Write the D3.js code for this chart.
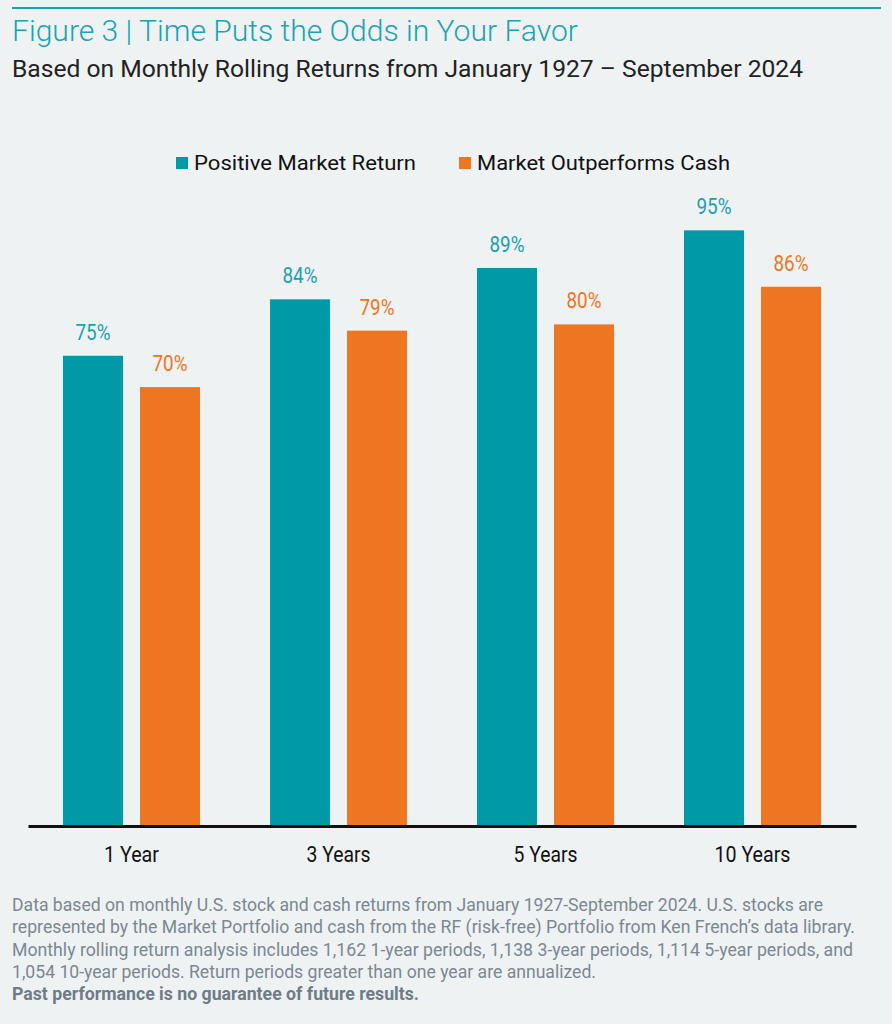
<!DOCTYPE html>
<html>
<head>
<meta charset="utf-8">
<script src="https://cdn.jsdelivr.net/npm/d3@7"></script>
<style>
  body { margin: 0; background: #eef2f3; }
  svg { display: block; font-family: Roboto, "Noto Sans", sans-serif; }
</style>
</head>
<body>
<script>
var w = 892, h = 1024;

// data
var categories = ["1 Year", "3 Years", "5 Years", "10 Years"];
var seriesNames = ["Positive Market Return", "Market Outperforms Cash"];
var positiveReturn = [75, 84, 89, 95];
var outperformCash = [70, 79, 80, 86];
var seriesColors = ["#0099a8", "#ee7623"];
var labelColors = ["#1aa0b0", "#ee7623"];
var footLines = [
  "Data based on monthly U.S. stock and cash returns from January 1927-September 2024. U.S. stocks are",
  "represented by the Market Portfolio and cash from the RF (risk-free) Portfolio from Ken French\u2019s data library.",
  "Monthly rolling return analysis includes 1,162 1-year periods, 1,138 3-year periods, 1,114 5-year periods, and",
  "1,054 10-year periods. Return periods greater than one year are annualized."
];
var footWidths = [811, 843, 841, 584];

var rows = categories.map(function(c, i) {
  return { cat: c, values: [positiveReturn[i], outperformCash[i]] };
});

var svg = d3.select("body").append("svg")
    .attr("width", w)
    .attr("height", h);

svg.append("rect").attr("width", w).attr("height", h).attr("fill", "#eef2f3");

// header
svg.append("line")
    .attr("x1", 12).attr("x2", 881)
    .attr("y1", 8).attr("y2", 8)
    .attr("stroke", "#1aa3b2").attr("stroke-width", 2);

svg.append("text")
    .text("Figure 3 | Time Puts the Odds in Your Favor")
    .attr("x", 12).attr("y", 41)
    .attr("textLength", 566).attr("lengthAdjust", "spacingAndGlyphs")
    .style("font-size", "30px").style("font-weight", 300)
    .style("fill", "#1aa3b2");

svg.append("text")
    .text("Based on Monthly Rolling Returns from January 1927 \u2013 September 2024")
    .attr("x", 12).attr("y", 77)
    .attr("textLength", 791).attr("lengthAdjust", "spacingAndGlyphs")
    .style("font-size", "23px")
    .style("fill", "#222");

// legend
var legendPos = [{ sx: 176, tx: 194, tw: 222 }, { sx: 459, tx: 477, tw: 253 }];
var legend = svg.selectAll("g.legend").data(seriesNames).enter().append("g").attr("class", "legend");
legend.append("rect")
    .attr("x", function(d, i) { return legendPos[i].sx; })
    .attr("y", 157).attr("width", 12).attr("height", 12)
    .attr("fill", function(d, i) { return seriesColors[i]; });
legend.append("text")
    .text(function(d) { return d; })
    .attr("x", function(d, i) { return legendPos[i].tx; })
    .attr("y", 170)
    .attr("textLength", function(d, i) { return legendPos[i].tw; })
    .attr("lengthAdjust", "spacingAndGlyphs")
    .style("font-size", "20px")
    .style("fill", "#111");

// scales
var x0 = d3.scaleBand().domain(categories).range([28, 856]).paddingInner(0.338).paddingOuter(0.169);
var x1 = d3.scaleBand().domain([0, 1]).range([0, x0.bandwidth()]).paddingInner(0.221);
var y = d3.scaleLinear().domain([0, 100]).range([826, 199]);

var groups = svg.selectAll("g.grp").data(rows).enter().append("g")
    .attr("class", "grp")
    .attr("transform", function(d) { return "translate(" + x0(d.cat) + ",0)"; });

groups.selectAll("rect").data(function(d) { return d.values; }).enter().append("rect")
    .attr("x", function(d, i) { return x1(i); })
    .attr("y", function(d) { return y(d); })
    .attr("width", x1.bandwidth())
    .attr("height", function(d) { return y(0) - y(d); })
    .attr("fill", function(d, i) { return seriesColors[i]; });

groups.selectAll("text").data(function(d) { return d.values; }).enter().append("text")
    .text(function(d) { return d + "%"; })
    .attr("x", function(d, i) { return x1(i) + x1.bandwidth() / 2; })
    .attr("y", function(d) { return y(d) - 16; })
    .attr("text-anchor", "middle")
    .attr("textLength", 35).attr("lengthAdjust", "spacingAndGlyphs")
    .style("font-size", "22px")
    .style("fill", function(d, i) { return labelColors[i]; });

// x axis
var xAxis = svg.append("g")
    .attr("transform", "translate(0," + y(0) + ")")
    .call(d3.axisBottom(x0).tickSize(0).tickPadding(20));
xAxis.select(".domain").attr("stroke", "#111").attr("stroke-width", 3);
var catWidths = [55, 64, 64, 76];
xAxis.selectAll(".tick text")
    .attr("textLength", function(d, i) { return catWidths[i]; })
    .attr("lengthAdjust", "spacingAndGlyphs")
    .style("font-size", "22px")
    .style("font-family", "Roboto, sans-serif")
    .style("fill", "#111");

// footnote
svg.selectAll("text.foot").data(footLines).enter().append("text")
    .attr("class", "foot")
    .text(function(d) { return d; })
    .attr("x", 12)
    .attr("y", function(d, i) { return 911 + i * 22.3; })
    .attr("textLength", function(d, i) { return footWidths[i]; })
    .attr("lengthAdjust", "spacingAndGlyphs")
    .style("font-size", "17.5px")
    .style("fill", "#7b8892");

svg.append("text")
    .text("Past performance is no guarantee of future results.")
    .attr("x", 12).attr("y", 1000)
    .attr("textLength", 407).attr("lengthAdjust", "spacingAndGlyphs")
    .style("font-size", "17.5px").style("font-weight", "bold")
    .style("fill", "#6f7c87");
</script>
</body>
</html>
